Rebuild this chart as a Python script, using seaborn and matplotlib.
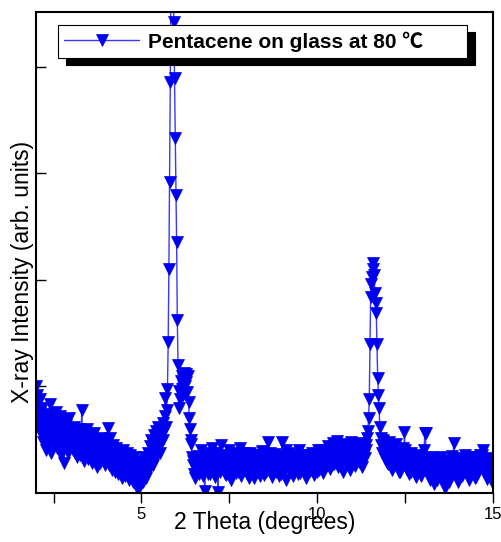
import numpy as np
import pandas as pd
import matplotlib
matplotlib.use("Agg")
import matplotlib.pyplot as plt
import seaborn as sns

# --- data: XRD scan, 2 theta from 2 to 15 deg, step 0.02 ---
SCAN_START = 2.0
SCAN_STEP = 0.02

# 2.00 - 2.98
int_2 = [100, 92, 84, 70, 62, 88, 75, 55, 68, 80, 48, 60, 72, 52, 40, 66, 58, 74, 45, 62,
         84, 50, 38, 64, 56, 70, 46, 60, 76, 52, 42, 66, 58, 48, 72, 36, 54, 62, 44, 68,
         28, 56, 64, 46, 52, 38, 60, 70, 48, 58]
# 3.00 - 3.98
int_3 = [45, 56, 40, 52, 62, 38, 48, 58, 34, 50, 44, 60, 36, 54, 46, 78, 42, 52, 30, 48,
         56, 38, 46, 60, 32, 44, 50, 36, 54, 28, 42, 48, 38, 56, 30, 46, 40, 24, 50, 36,
         44, 28, 52, 38, 46, 30, 40, 48, 26, 42]
# 4.00 - 4.98
int_4 = [36, 30, 44, 61, 26, 52, 34, 40, 22, 45, 30, 38, 20, 34, 42, 26, 32, 18, 38, 28,
         24, 36, 14, 30, 40, 22, 34, 16, 28, 38, 20, 32, 12, 26, 36, 18, 30, 22, 10, 34,
         24, 16, 28, 8, 20, 3, 26, 14, 30, 18]
# 5.00 - 5.58
int_5 = [16, 28, 10, 22, 34, 18, 26, 14, 30, 38, 20, 28, 44, 32, 50, 36, 26, 46, 54, 40,
         58, 34, 48, 62, 42, 52, 38, 60, 48, 56]
# 5.60 - 6.50  (first peak + shoulder)
int_peak1 = [50, 66, 58, 72, 89, 62, 78, 98, 142, 210, 292, 386, 480, 540, 570, 520, 442, 390,
             333, 280, 236, 162, 120, 80, 96, 88, 105, 98, 110, 92, 108, 113, 100, 112, 104,
             95, 110, 85, 70, 60, 50, 46, 34, 26, 30, 18]
# 6.52 - 11.38
int_mid = [14, 24, 30, 20, 35, 26, 18, 32, 22, 40, 28, 16, 34, 20, 2, 26, 36, 22, 30, 18,
           33, 24, 18, 38, 42, 26, 20, 31, 15, 28, 38, 22, 30, 1, 27, 34, 20, 45, 28, 24,
           22, 36, 34, 18, 17, 30, 29, 24, 40, 20, 24, 14, 12, 32, 33, 22, 27, 38, 19, 26,
           36, 20, 25, 30, 42, 18, 16, 34, 30, 24, 22, 38, 35, 26, 18, 30, 28, 14, 38, 24,
           21, 34, 32, 18, 14, 28, 27, 36, 36, 22, 20, 30, 30, 16, 24, 34, 39, 26, 17, 30,
           29, 20, 34, 26, 48, 30, 22, 38, 31, 18, 15, 28, 26, 34, 37, 22, 20, 30, 28, 16,
           33, 24, 18, 30, 48, 28, 25, 20, 35, 40, 12, 26, 27, 34, 38, 20, 21, 30, 30, 24,
           16, 28, 34, 22, 24, 36, 29, 18, 40, 26, 19, 32, 31, 24, 23, 30, 36, 20, 14, 28,
           28, 36, 33, 22, 21, 30, 38, 24, 26, 34, 17, 28, 30, 20, 35, 40, 22, 30, 28, 36,
           40, 26, 19, 34, 32, 24, 25, 38, 36, 28, 44, 30, 23, 38, 31, 26, 47, 34, 27, 40,
           38, 28, 49, 32, 24, 42, 35, 26, 42, 30, 20, 36, 33, 44, 46, 28, 28, 40, 38, 30,
           22, 34, 48, 30, 30, 44, 41, 28, 25, 38, 36, 46, 47, 32, 29, 42, 40, 34, 24, 46,
           44, 36, 33, 40]
# 11.40 - 11.86  (second peak)
int_peak2 = [45, 52, 58, 70, 88, 140, 184, 196, 203, 210, 216, 205, 188, 178, 169, 140, 108,
             92, 80, 62, 45, 52, 38, 44]
# 11.88 - 15.00
int_high = [50, 38, 32, 46, 44, 28, 27, 40, 48, 34, 36, 24, 22, 42, 40, 30, 30, 38, 46, 26,
            25, 34, 38, 20, 20, 36, 34, 28, 42, 30, 57, 40, 28, 22, 35, 26, 18, 32, 30, 20,
            38, 26, 24, 34, 33, 18, 15, 28, 28, 22, 36, 30, 22, 16, 31, 26, 26, 34, 40, 56,
            56, 30, 20, 24, 29, 16, 12, 22, 25, 34, 33, 18, 8, 20, 22, 30, 30, 12, 16, 26,
            27, 20, 34, 24, 12, 18, 24, 30, 5, 14, 19, 26, 30, 10, 14, 24, 26, 32, 35, 20,
            47, 30, 18, 24, 28, 14, 10, 22, 23, 30, 33, 18, 16, 28, 26, 20, 36, 24, 20, 30,
            29, 16, 12, 26, 24, 34, 34, 20, 19, 28, 27, 14, 15, 30, 31, 24, 22, 32, 36, 26,
            25, 36, 40, 22, 18, 28, 30, 16, 13, 24, 26, 30, 33, 22, 20, 14, 8]

intensity = int_2 + int_3 + int_4 + int_5 + int_peak1 + int_mid + int_peak2 + int_high
two_theta = np.round(SCAN_START + SCAN_STEP * np.arange(len(intensity)), 2)

df = pd.DataFrame({"two_theta": two_theta, "intensity": intensity})

LEGEND_LABEL = "Pentacene on glass at 80 ℃"
X_MAJOR = [5, 10, 15]
X_MINOR = [2.5, 7.5, 12.5]
Y_TICKS = [100, 200, 300, 400]

# --- style ---
sns.set_style("ticks")
plt.rcParams["font.family"] = ["Liberation Sans", "DejaVu Sans"]
plt.rcParams["text.color"] = "black"
plt.rcParams["axes.labelcolor"] = "black"

fig = plt.figure(figsize=(5.02, 5.42), dpi=100)
ax = fig.add_axes([36 / 502, 49 / 542, 457 / 502, 481 / 542])

sns.lineplot(data=df, x="two_theta", y="intensity", ax=ax, sort=False, estimator=None,
             color="#3838ff", linewidth=1.0, marker="v", markersize=8.5,
             markerfacecolor="#0000f0", markeredgecolor="#0000f0", markeredgewidth=0.5,
             label=LEGEND_LABEL)

ax.set_xlim(2, 15)
ax.set_ylim(0, 451.6)

ax.set_xticks(X_MAJOR)
ax.set_xticklabels([str(v) for v in X_MAJOR], fontsize=12)
ax.set_xticks(X_MINOR, minor=True)
ax.tick_params(axis="x", which="both", direction="out", length=7, width=1, pad=3,
               colors="black")
ax.set_yticks(Y_TICKS)
ax.set_yticklabels([])
ax.tick_params(axis="y", direction="in", length=7, width=1, colors="black")

for s in ax.spines.values():
    s.set_linewidth(1.5)
    s.set_color("black")

ax.set_xlabel("2 Theta (degrees)", fontsize=16.5, labelpad=-8)
ax.set_ylabel("X-ray Intensity (arb. units)", fontsize=16.5)
ax.yaxis.set_label_coords(-0.004, 0.46)

# legend with a solid black drop shadow, the degree-celsius sign from a CJK font
leg = ax.legend(loc="upper left", bbox_to_anchor=(0.048, 0.973, 0.895, 0.0), mode="expand",
                borderaxespad=0, frameon=True, fancybox=False, framealpha=1,
                edgecolor="black", borderpad=0.3, handlelength=3.6, handletextpad=0.4,
                shadow={"color": "black", "alpha": 1, "ox": 6, "oy": -5},
                prop={"weight": "bold", "size": 15,
                      "family": ["Liberation Sans", "Noto Sans CJK KR", "DejaVu Sans"]})
leg.get_frame().set_linewidth(0.8)

fig.savefig("out.png", dpi=100)
